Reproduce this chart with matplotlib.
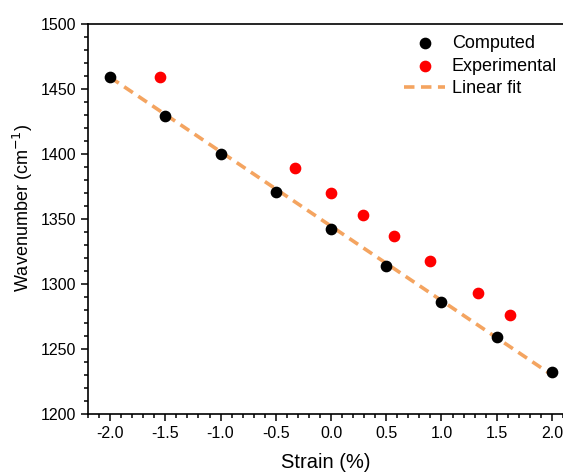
import matplotlib.pyplot as plt
import numpy as np
from matplotlib.ticker import MultipleLocator

plt.rcParams['font.family'] = ['Liberation Sans', 'DejaVu Sans']

# computed
strain_comp = [-2.0, -1.5, -1.0, -0.5, 0.0, 0.5, 1.0, 1.5, 2.0]
wn_comp = [1459, 1429, 1400, 1371, 1342, 1314, 1286, 1259, 1232]

# experimental
strain_exp = [-1.55, -0.33, 0.0, 0.29, 0.57, 0.9, 1.33, 1.62]
wn_exp = [1459, 1389, 1370, 1353, 1337, 1318, 1293, 1276]

# linear fit endpoints
fit_x = [-2.0, 2.0]
fit_y = [1459, 1230]

fig = plt.figure(figsize=(5.63, 4.74), dpi=100)
ax = fig.add_axes([0.1563, 0.1266, 0.8437, 0.8228])

ax.plot(fit_x, fit_y, linestyle=(0, (2.9, 1.8)), color='#F4A460', linewidth=2.6,
        label='Linear fit', zorder=2)
ax.scatter(strain_comp, wn_comp, s=55, color='black', label='Computed', zorder=3)
ax.scatter(strain_exp, wn_exp, s=55, color='red', label='Experimental', zorder=3)

ax.set_xlim(-2.2, 2.1)
ax.set_ylim(1200, 1500)
ax.xaxis.set_major_locator(MultipleLocator(0.5))
ax.xaxis.set_minor_locator(MultipleLocator(0.1))
ax.yaxis.set_major_locator(MultipleLocator(50))
ax.yaxis.set_minor_locator(MultipleLocator(10))
ax.xaxis.set_major_formatter(plt.FormatStrFormatter('%.1f'))

ax.spines['right'].set_visible(False)
for s in ['left', 'bottom', 'top']:
    ax.spines[s].set_linewidth(1.2)
ax.tick_params(which='major', direction='out', length=5, width=1.1, labelsize=11.5)
ax.tick_params(which='minor', direction='out', length=3, width=1.1)
ax.tick_params(top=False, right=False, which='both')

ax.set_xlabel('Strain (%)', fontsize=14.5)
ax.set_ylabel('Wavenumber (cm$^{-1}$)', fontsize=13)
ax.xaxis.set_label_coords(0.5, -0.1)
ax.yaxis.set_label_coords(-0.112, 0.528)

h, l = ax.get_legend_handles_labels()
order = [1, 2, 0]
ax.legend([h[i] for i in order], [l[i] for i in order], loc='upper left',
          bbox_to_anchor=(0.665, 0.972), frameon=False, fontsize=13,
          handlelength=2.3, handletextpad=0.35, labelspacing=0.32,
          borderpad=0, borderaxespad=0)

fig.savefig('out.png', dpi=100)
